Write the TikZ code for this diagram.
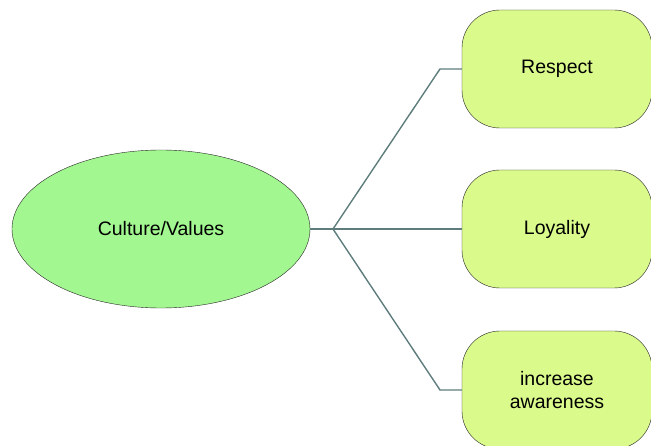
\documentclass[tikz,border=0pt]{standalone}
\usepackage{fontspec}
\setmainfont{Liberation Sans}
\usetikzlibrary{shapes.geometric}
\definecolor{rootgreen}{HTML}{A2F790}
\definecolor{leafgreen}{HTML}{DAFA8C}
\definecolor{linkgray}{HTML}{5E7C7C}
\tikzset{x=1pt, y=-1pt,
every node/.style={ % Sets the text for every node
font=\fontsize{19.5}{23}\selectfont},
root/.style={ % The central ellipse
ellipse, draw=black!85, thin,
fill=rootgreen,
minimum width=298pt, minimum height=158pt,
inner sep=0pt},
leaf/.style={ % The rounded boxes on the right
rectangle, rounded corners=38pt,
draw=black!85, thin,
fill=leafgreen,
minimum width=190pt, minimum height=118pt,
align=center},
link/.style={ % Sets the properties for each connector
draw=linkgray,
line width=1.4pt}}

\begin{document}
\begin{tikzpicture}
\useasboundingbox (0,0) rectangle (651,446);
\clip (0,0) rectangle (651,446);
\node[root] (culture) at (161,229) {Culture/Values};
\node[leaf] (respect) at (557,69) {Respect};
\node[leaf] (loyality) at (557,229) {Loyality};
\node[leaf] (awareness) at (557,390) {increase\\awareness};
\coordinate (hub) at (333,229);
\coordinate (bendA) at (440,69);
\coordinate (bendC) at (440,390);
\draw[link, line width=2pt] (culture.east) -- (hub);
\draw[link] (hub) -- (bendA) -- (respect.west);
\draw[link] (hub) -- (loyality.west);
\draw[link] (hub) -- (bendC) -- (awareness.west);
\end{tikzpicture}
\end{document}
